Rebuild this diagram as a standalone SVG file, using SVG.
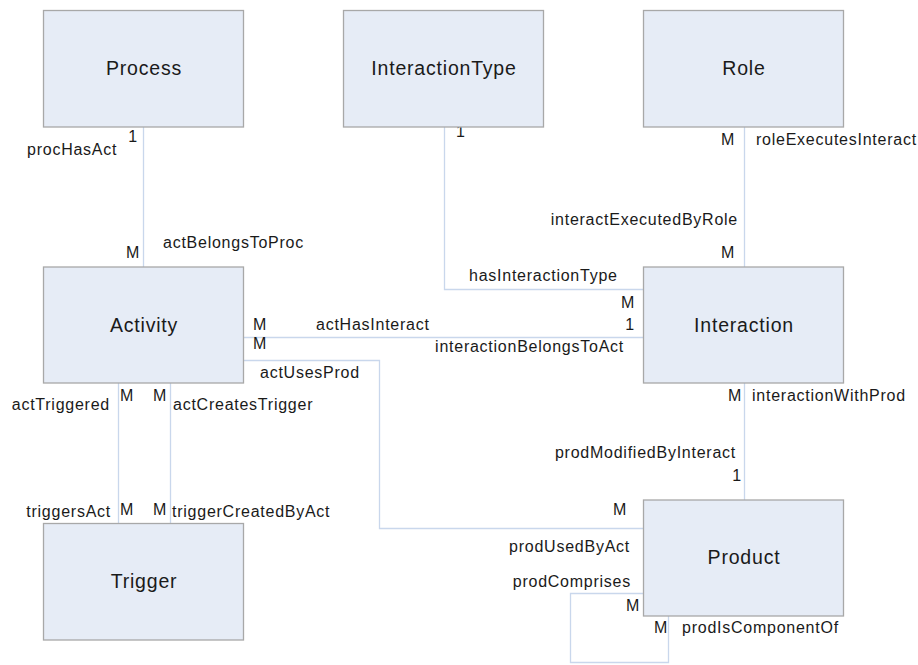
<svg xmlns="http://www.w3.org/2000/svg" width="918" height="665" viewBox="0 0 918 665">
<style>
.box{fill:#e6ecf6;stroke:#a8a8a8;stroke-width:1.3}
.title{font-family:"Liberation Sans",Arial,sans-serif;font-size:19.5px;letter-spacing:0.8px;fill:#1a1a1a;text-anchor:middle}
.lbl{font-family:"Liberation Sans",Arial,sans-serif;font-size:16px;letter-spacing:0.75px;fill:#1a1a1a}
.end{text-anchor:end}
.conn{fill:none;stroke:#c9d7ec;stroke-width:1.3}
</style>
<rect width="918" height="665" fill="#ffffff"/>
<g id="connectors">
<path class="conn" d="M143.5,127 V267"/>
<path class="conn" d="M444.5,127 V289.5 H643"/>
<path class="conn" d="M744.5,127 V267"/>
<path class="conn" d="M243,337.5 H643"/>
<path class="conn" d="M243,360.5 H379.5 V528.5 H643"/>
<path class="conn" d="M118.5,383 V523"/>
<path class="conn" d="M170.5,383 V523"/>
<path class="conn" d="M744.5,383 V500"/>
<path class="conn" d="M643,593.5 H570.5 V662.5 H668.5 V616"/>
</g>
<g id="labels">
<text class="lbl end" x="138" y="142">1</text>
<text class="lbl" x="27" y="155">procHasAct</text>
<text class="lbl end" x="140" y="258">M</text>
<text class="lbl" x="163" y="248">actBelongsToProc</text>
<text class="lbl" x="456" y="137">1</text>
<text class="lbl" x="469" y="281">hasInteractionType</text>
<text class="lbl end" x="635" y="308">M</text>
<text class="lbl end" x="735" y="145">M</text>
<text class="lbl" x="756" y="145">roleExecutesInteract</text>
<text class="lbl end" x="738" y="225">interactExecutedByRole</text>
<text class="lbl end" x="735" y="258">M</text>
<text class="lbl" x="253" y="330">M</text>
<text class="lbl" x="316" y="330">actHasInteract</text>
<text class="lbl end" x="635" y="330">1</text>
<text class="lbl" x="253" y="349">M</text>
<text class="lbl end" x="624" y="352">interactionBelongsToAct</text>
<text class="lbl" x="260" y="378">actUsesProd</text>
<text class="lbl end" x="627" y="515">M</text>
<text class="lbl end" x="630" y="552">prodUsedByAct</text>
<text class="lbl" x="120" y="401">M</text>
<text class="lbl" x="153" y="401">M</text>
<text class="lbl end" x="110" y="410">actTriggered</text>
<text class="lbl" x="173" y="410">actCreatesTrigger</text>
<text class="lbl end" x="111" y="517">triggersAct</text>
<text class="lbl" x="120" y="515">M</text>
<text class="lbl" x="153" y="515">M</text>
<text class="lbl" x="172" y="517">triggerCreatedByAct</text>
<text class="lbl end" x="742" y="401">M</text>
<text class="lbl" x="752" y="401">interactionWithProd</text>
<text class="lbl end" x="736" y="458">prodModifiedByInteract</text>
<text class="lbl end" x="742" y="481">1</text>
<text class="lbl end" x="631" y="587">prodComprises</text>
<text class="lbl end" x="640" y="611">M</text>
<text class="lbl" x="654" y="633">M</text>
<text class="lbl" x="682" y="633">prodIsComponentOf</text>
</g>
<g id="Process"><rect class="box" x="43.5" y="10.5" width="200" height="116.5"/><text class="title" x="144" y="75">Process</text></g>
<g id="InteractionType"><rect class="box" x="343.5" y="10.5" width="200" height="116.5"/><text class="title" x="444" y="75">InteractionType</text></g>
<g id="Role"><rect class="box" x="643.5" y="10.5" width="200" height="116.5"/><text class="title" x="744" y="75">Role</text></g>
<g id="Activity"><rect class="box" x="43.5" y="267" width="200" height="116"/><text class="title" x="144" y="332">Activity</text></g>
<g id="Interaction"><rect class="box" x="643.5" y="267" width="200" height="116"/><text class="title" x="744" y="332">Interaction</text></g>
<g id="Trigger"><rect class="box" x="43.5" y="523.5" width="200" height="116.5"/><text class="title" x="144" y="588">Trigger</text></g>
<g id="Product"><rect class="box" x="643.5" y="500" width="200" height="116"/><text class="title" x="744" y="564">Product</text></g>
</svg>
